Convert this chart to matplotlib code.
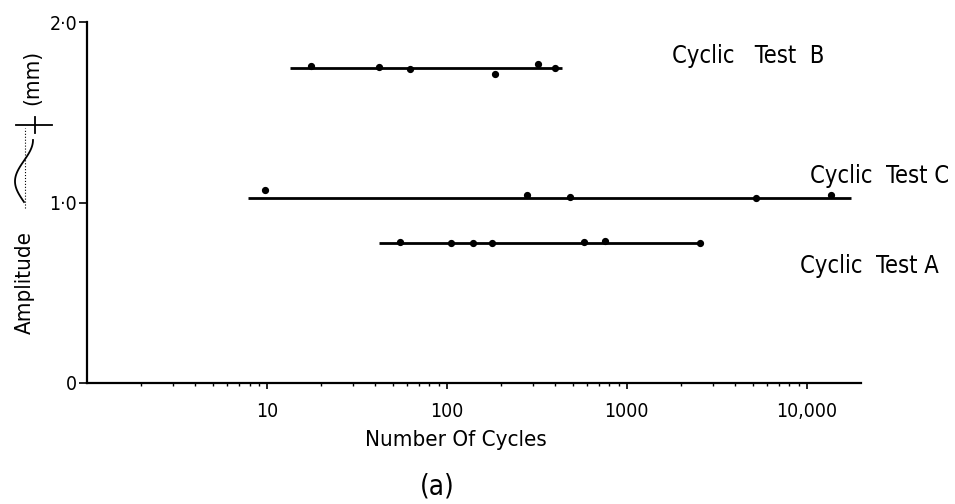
import numpy as np
import matplotlib.pyplot as plt
from matplotlib.lines import Line2D
from matplotlib.ticker import FixedLocator, NullFormatter

plt.rcParams['font.family'] = ['DejaVu Sans']
plt.rcParams['font.stretch'] = 'condensed'

# cyclic tests: fitted amplitude level, extent of the fitted line, and measured points
tests = ['Cyclic   Test  B', 'Cyclic  Test C', 'Cyclic  Test A']
levels = [1.743, 1.023, 0.777]
line_start = [13.5, 7.8, 42]
line_end = [437, 17500, 2560]

b_cycles = [17.5, 42, 62, 184, 321, 401]
b_amp = [1.758, 1.749, 1.740, 1.712, 1.767, 1.745]
c_cycles = [9.8, 279, 486, 5190, 13600]
c_amp = [1.069, 1.043, 1.032, 1.023, 1.042]
a_cycles = [55, 105, 140, 178, 577, 757, 2557]
a_amp = [0.783, 0.773, 0.775, 0.777, 0.782, 0.785, 0.774]

xticks = [10, 100, 1000, 10000]
xtick_labels = ['10', '100', '1000', '10,000']
yticks = [0, 1.0, 2.0]
ytick_labels = ['0', '1·0', '2·0']

W, H = 955, 504


def px(x, y):
    # pixel position (from top-left) to figure fraction
    return x / W, 1 - y / H


fig = plt.figure(figsize=(W / 100, H / 100), dpi=100)
ax = fig.add_axes([87 / W, 121 / H, 774 / W, 361 / H])

ax.set_xscale('log')
ax.set_xlim(1, 20000)
ax.set_ylim(0, 2.0)

for lvl, x0, x1 in zip(levels, line_start, line_end):
    ax.hlines(lvl, x0, x1, color='black', lw=2.0)

for xs, ys in [(b_cycles, b_amp), (c_cycles, c_amp), (a_cycles, a_amp)]:
    ax.plot(xs, ys, 'o', color='black', ms=4.2)

# series names to the right of each line
label_pos = [(672, 56), (810, 176), (800, 266)]
for name, (lx, ly) in zip(tests, label_pos):
    fx, fy = px(lx, ly)
    fig.text(fx, fy, name, fontsize=17, va='center', ha='left')

for s in ['top', 'right']:
    ax.spines[s].set_visible(False)
for s in ['left', 'bottom']:
    ax.spines[s].set_linewidth(1.6)

ax.xaxis.set_major_locator(FixedLocator(xticks))
ax.set_xticklabels(xtick_labels, fontsize=14)
minor = [m * 10 ** e for e in range(0, 5) for m in range(2, 10) if m * 10 ** e < 20000]
ax.xaxis.set_minor_locator(FixedLocator(minor))
ax.xaxis.set_minor_formatter(NullFormatter())
ax.tick_params(axis='x', which='major', direction='out', length=4.5, width=1.2, pad=9)
ax.tick_params(axis='x', which='minor', direction='out', length=2.5, width=1.0)

ax.set_yticks(yticks)
ax.set_yticklabels(ytick_labels, fontsize=14)
ax.tick_params(axis='y', direction='out', length=6, width=1.2, pad=1)

fig.text(*px(456, 440), 'Number Of Cycles', fontsize=16, ha='center', va='center')
fig.text(*px(437, 486), '(a)', fontsize=20, ha='center', va='center')

# rotated axis title: "Amplitude", wave sketch, "(mm)"
fig.text(*px(25, 283), 'Amplitude', fontsize=16, rotation=90, ha='center', va='center')
fig.text(*px(32, 77), '(mm)', fontsize=16, rotation=90, ha='center', va='center')

t = np.linspace(0, 1.5 * np.pi, 60)
wave = [px(24 - 9 * np.sin(a), 202 - a / (1.5 * np.pi) * 62) for a in t]
fig.add_artist(Line2D(*zip(*wave), transform=fig.transFigure, color='black', lw=1.3))
centre = [px(25, 208), px(25, 128)]
fig.add_artist(Line2D(*zip(*centre), transform=fig.transFigure, color='black', lw=0.8, ls=':'))
bar = [px(16, 125), px(52, 125)]
fig.add_artist(Line2D(*zip(*bar), transform=fig.transFigure, color='black', lw=1.3))
tick = [px(35, 117), px(35, 133)]
fig.add_artist(Line2D(*zip(*tick), transform=fig.transFigure, color='black', lw=1.3))

fig.savefig('out.png', dpi=100, facecolor='white')
